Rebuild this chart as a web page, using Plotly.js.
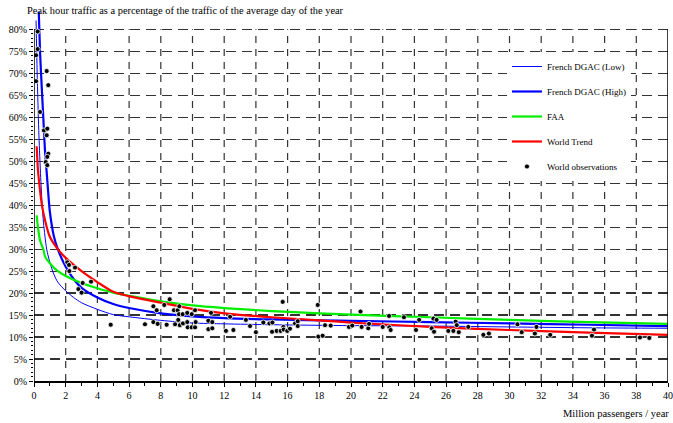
<!DOCTYPE html>
<html><head><meta charset="utf-8">
<script src="https://cdn.plot.ly/plotly-3.0.1.min.js"></script>
<style>body{margin:0;background:#fff;}</style>
</head><body><div id="chart" style="width:673px;height:423px;"></div>
<script>
// ---- data ----
const titleText = "Peak hour traffic as a percentage of the traffic of the average day of the year";
const xAxisLabel = "Million passengers / year";
const seriesNames = ["French DGAC (Low)", "French DGAC (High)", "FAA", "World Trend", "World observations"];

const lowX  = [0.13, 0.2, 0.3, 0.4, 0.5, 0.6, 0.8, 1.0, 1.25, 1.5, 2, 2.5, 3, 4, 5, 6, 8, 10, 12, 15, 20, 25, 30, 35, 40];
const lowY  = [82, 70, 57, 48, 41, 36, 30, 27, 24.3, 22.5, 20.5, 19.0, 17.8, 16.3, 15.1, 14.6, 13.8, 13.2, 13.0, 12.8, 12.6, 12.5, 12.3, 12.1, 12.0];

const highX = [0.3, 0.38, 0.5, 0.6, 0.7, 0.8, 0.9, 1.0, 1.25, 1.5, 2, 2.5, 3, 4, 5, 6, 8, 10, 12, 15, 18, 20, 25, 30, 35, 40];
const highY = [84, 75, 66, 59, 52, 47.5, 42.7, 38.5, 33, 30, 26, 23.2, 21.2, 19.0, 17.5, 16.6, 15.4, 14.7, 14.3, 14.0, 13.8, 13.7, 13.4, 13.1, 12.8, 12.5];

const faaX  = [0.17, 0.25, 0.38, 0.6, 0.7, 1.0, 1.5, 2, 3, 4, 5, 6, 8, 10, 12, 15, 18, 20, 25, 30, 35, 40];
const faaY  = [37.7, 35, 32, 29.8, 28.3, 26.8, 25, 23.9, 22.3, 21.1, 20.1, 19.4, 18.1, 17.2, 16.6, 15.9, 15.4, 15.1, 14.5, 13.9, 13.4, 13.0];

const trendX = [0.17, 0.25, 0.38, 0.5, 0.7, 1.0, 1.5, 2, 3, 4, 5, 6, 8, 10, 12, 15, 18, 20, 25, 30, 35, 40];
const trendY = [53.4, 48, 43.4, 40, 36.5, 32.8, 30.0, 28, 25, 22.5, 20.3, 19.3, 17.8, 16.4, 15.4, 14.5, 13.8, 13.3, 12.3, 11.6, 11.0, 10.5];

const obsX = [0.23,0.23,0.13,0.8,0.13,0.9,0.38,0.63,0.84,0.8,0.9,0.84,0.74,0.84,
  2.1,2.21,2.23,2.59,3.07,3.6,2.8,3.0,4.84,7.0,7.53,7.74,7.53,7.8,8.22,8.56,8.37,8.83,9.06,9.17,9.15,9.38,9.67,9.95,10.16,
  8.9,9.1,9.2,9.4,9.67,9.7,9.95,10.16,10.2,11.0,11.25,11.0,11.25,11.17,12.11,12.37,12.58,13.37,13.63,14.0,14.47,14.85,15.04,
  15.02,15.31,15.56,15.73,15.69,15.75,15.98,16.15,16.47,16.64,16.64,17.9,17.94,18.21,18.36,18.72,19.87,20.08,20.6,20.67,
  21.09,21.14,22.0,22.4,22.42,22.5,23.34,24.1,24.3,25.2,25.4,25.09,25.24,26.14,26.46,26.6,26.67,26.8,27.4,28.35,28.7,
  30.5,30.77,31.7,31.6,32.57,35.2,35.33,38.23,38.82];
const obsY = [79.5,75.5,74.1,70.5,68.2,67.3,61.2,57.0,57.4,55.9,51.7,51.0,49.8,49.1,
  27.0,26.4,25.0,25.8,22.3,22.6,20.9,20.1,12.8,12.9,17.0,16.1,13.4,13.0,17.3,18.6,12.8,16.1,16.1,17.0,15.2,15.2,15.5,15.2,16.1,
  12.9,13.9,12.7,13.1,13.4,12.2,12.2,12.2,13.4,13.7,13.4,11.8,12.0,15.5,11.4,14.6,11.6,13.9,12.5,11.1,13.3,13.1,13.3,
  11.2,11.4,11.4,12.3,18.0,11.7,11.4,11.9,13.1,13.6,12.5,17.3,10.1,10.3,12.7,12.6,12.3,12.6,15.8,12.3,
  12.0,13.0,12.3,14.8,12.2,11.6,14.5,11.6,13.9,14.2,13.9,12.0,11.2,11.4,11.4,13.5,12.7,11.1,12.3,10.5,10.8,
  12.9,11.1,12.3,10.8,10.5,10.3,11.7,9.9,9.8];

const yTickVals = [0,5,10,15,20,25,30,35,40,45,50,55,60,65,70,75,80];
const yTickText = ["0%","5%","10%","15%","20%","25%","30%","35%","40%","45%","50%","55%","60%","65%","70%","75%","80%"];
const xTickVals = [0,2,4,6,8,10,12,14,16,18,20,22,24,26,28,30,32,34,36,38,40];
const xTickText = ["0","2","4","6","8","10","12","14","16","18","20","22","24","26","28","30","32","34","36","38","40"];

// ---- chart ----
const FONT = "Liberation Serif, Times New Roman, serif";
const yMinor = [];
for (let v = 0; v <= 80; v++) yMinor.push(v);

const traces = [
  {x: lowX, y: lowY, name: seriesNames[0], legendgroup: "a", mode: "lines",
   line: {color: "#0000ff", width: 1, shape: "spline", smoothing: 0.8}},
  {x: highX, y: highY, name: seriesNames[1], legendgroup: "b", mode: "lines",
   line: {color: "#0000ff", width: 2.2, shape: "spline", smoothing: 0.8}},
  {x: faaX, y: faaY, name: seriesNames[2], legendgroup: "c", mode: "lines",
   line: {color: "#00ee00", width: 2.2, shape: "spline", smoothing: 0.8}},
  {x: trendX, y: trendY, name: seriesNames[3], legendgroup: "d", mode: "lines",
   line: {color: "#ff0000", width: 2.2, shape: "spline", smoothing: 0.8}},
  {x: obsX, y: obsY, name: seriesNames[4], legendgroup: "e", mode: "markers",
   marker: {color: "#000", size: 5, line: {color: "#fff", width: 0.8}}}
];

const shapes = [];
xTickVals.forEach(v => {
  if (v > 0 && v < 40) shapes.push({type: "line", xref: "x", yref: "y", x0: v, x1: v, y0: 0, y1: 80,
    layer: "below", line: {color: "#333", width: 1.2, dash: "7px,6px"}});
});
shapes.push({type: "line", xref: "x", yref: "y", x0: 0, x1: 0, y0: 0, y1: 80, layer: "above", line: {color: "#000", width: 1.5}});
shapes.push({type: "line", xref: "x", yref: "y", x0: 40, x1: 40, y0: 0, y1: 80, layer: "above", line: {color: "#000", width: 1.5}});

const layout = {
  width: 673, height: 423,
  margin: {l: 34, r: 5, t: 0, b: 42, pad: 0},
  paper_bgcolor: "#fff", plot_bgcolor: "#fff",
  font: {family: FONT, size: 10, color: "#000"},
  title: {text: titleText, font: {family: FONT, size: 10.4, color: "#000"},
    xref: "container", yref: "container", x: 27/673, xanchor: "left", y: 1 - 10/423, yanchor: "middle"},
  showlegend: true,
  legend: {x: 0.746, y: 1 - 52/381, xanchor: "left", yanchor: "top", bgcolor: "#fff", borderwidth: 0,
    font: {family: FONT, size: 9, color: "#000"}, tracegroupgap: 6, traceorder: "grouped"},
  xaxis: {range: [0, 40], tickvals: xTickVals, ticktext: xTickText, ticks: "outside", ticklen: 4, tickcolor: "#000",
    showline: true, linecolor: "#000", linewidth: 1.5, showgrid: false, zeroline: false,
    tickfont: {family: FONT, size: 10, color: "#000"},
    minor: {dtick: 1, tick0: 0, ticks: "outside", ticklen: 3, tickcolor: "#000", showgrid: false}},
  yaxis: {range: [0, 86.67], tickvals: yTickVals, ticktext: yTickText, ticks: "outside", ticklen: 4, tickcolor: "#000",
    showline: false, showgrid: true, gridcolor: "#333", gridwidth: 1.2, griddash: "10px,6px", zeroline: false,
    tickfont: {family: FONT, size: 10, color: "#000"},
    minor: {tickmode: "array", tickvals: yMinor, ticks: "outside", ticklen: 2.5, tickcolor: "#000", showgrid: false}},
  shapes: shapes,
  annotations: [{text: xAxisLabel, xref: "paper", yref: "paper", x: (671-34)/634, y: (381-413)/381,
    xanchor: "right", yanchor: "middle", showarrow: false, font: {family: FONT, size: 10.5, color: "#000"}}]
};

Plotly.newPlot("chart", traces, layout, {displayModeBar: false, staticPlot: true});
</script></body></html>
